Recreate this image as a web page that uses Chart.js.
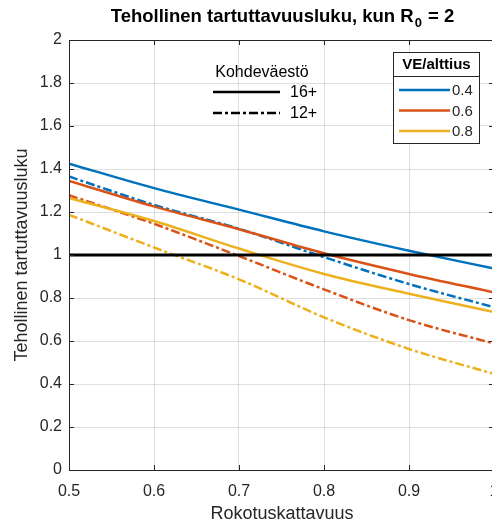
<!DOCTYPE html>
<html>
<head>
<meta charset="utf-8">
<script src="https://cdn.jsdelivr.net/npm/chart.js@4/dist/chart.umd.min.js"></script>
<style>
  html, body { margin: 0; padding: 0; background: #fff; overflow: hidden; }
  #wrap { width: 500px; height: 525px; }
</style>
</head>
<body>
<div id="wrap"><canvas id="rtChart" width="500" height="525"></canvas></div>
<script>
// ========== DATA ==========
const coverage = [0.5, 0.6, 0.7, 0.8, 0.9, 1.0];

// VE/alttius 0.4 / 0.6 / 0.8, target group 16+ (solid) and 12+ (dash-dot)
const ve04Age16 = [1.425, 1.311, 1.211, 1.110, 1.020, 0.937];
const ve04Age12 = [1.365, 1.233, 1.122, 0.990, 0.865, 0.757];
const ve06Age16 = [1.345, 1.226, 1.120, 1.008, 0.912, 0.826];
const ve06Age12 = [1.278, 1.145, 0.995, 0.840, 0.697, 0.588];
const ve08Age16 = [1.265, 1.158, 1.030, 0.912, 0.820, 0.735];
const ve08Age12 = [1.187, 1.035, 0.887, 0.710, 0.563, 0.447];

// epidemic threshold R = 1
const thresholdX = [0.5, 1.0];
const thresholdY = [1, 1];

const xTickValues = [0.5, 0.6, 0.7, 0.8, 0.9, 1];
const yTickValues = [0, 0.2, 0.4, 0.6, 0.8, 1, 1.2, 1.4, 1.6, 1.8, 2];

const veLevels = ['0.4', '0.6', '0.8'];
const groupLabels = ['16+', '12+'];

// ========== STYLE ==========
const FONT = "'Liberation Sans', Arial, Helvetica, sans-serif";
const AXIS_COLOR = '#262626';
const BLUE = '#0072BD';
const ORANGE = '#D95319';
const YELLOW = '#EDB120';
const DASH_DOT = [9, 3, 3, 3];

function toPoints(xs, ys) {
    return xs.map((x, i) => ({ x: x, y: ys[i] }));
}

function curve(values, color, dashed) {
    return {
        data: toPoints(coverage, values),
        borderColor: color,
        borderWidth: 2.5,
        borderDash: dashed ? DASH_DOT : [],
        borderCapStyle: 'butt',
        cubicInterpolationMode: 'monotone',
        pointRadius: 0,
        fill: false
    };
}

// ========== DECORATIONS (box, ticks, titles, legends) ==========
const decorations = {
    id: 'decorations',
    afterDraw(chart) {
        const ctx = chart.ctx;
        const area = chart.chartArea;
        const xs = chart.scales.x;
        const ys = chart.scales.y;
        ctx.save();

        // axes box
        ctx.strokeStyle = AXIS_COLOR;
        ctx.lineWidth = 1;
        ctx.strokeRect(area.left + 0.5, area.top + 0.5, area.right - area.left, area.bottom - area.top);

        // inward tick marks on all four sides
        ctx.beginPath();
        xTickValues.forEach(v => {
            const px = Math.round(xs.getPixelForValue(v)) + 0.5;
            ctx.moveTo(px, area.bottom); ctx.lineTo(px, area.bottom - 5);
            ctx.moveTo(px, area.top); ctx.lineTo(px, area.top + 5);
        });
        yTickValues.forEach(v => {
            const py = Math.round(ys.getPixelForValue(v)) + 0.5;
            ctx.moveTo(area.left, py); ctx.lineTo(area.left + 5, py);
            ctx.moveTo(area.right, py); ctx.lineTo(area.right - 5, py);
        });
        ctx.stroke();

        // title with subscript
        ctx.fillStyle = '#000';
        ctx.textBaseline = 'alphabetic';
        ctx.textAlign = 'left';
        const mainFont = 'bold 18.5px ' + FONT;
        const subFont = 'bold 13px ' + FONT;
        const partA = 'Tehollinen tartuttavuusluku, kun R';
        const partSub = '0';
        const partB = ' = 2';
        ctx.font = mainFont;
        const wA = ctx.measureText(partA).width;
        const wB = ctx.measureText(partB).width;
        ctx.font = subFont;
        const wS = ctx.measureText(partSub).width + 1;
        let tx = 282 - (wA + wS + wB) / 2;
        const ty = 22;
        ctx.font = mainFont;
        ctx.fillText(partA, tx, ty);
        tx += wA + 1;
        ctx.font = subFont;
        ctx.fillText(partSub, tx, ty + 5);
        tx += wS;
        ctx.font = mainFont;
        ctx.fillText(partB, tx, ty);

        // axis titles
        ctx.fillStyle = AXIS_COLOR;
        ctx.font = '18px ' + FONT;
        ctx.textAlign = 'center';
        ctx.textBaseline = 'middle';
        ctx.fillText('Rokotuskattavuus', 282, 514);
        ctx.save();
        ctx.translate(22, 255);
        ctx.rotate(-Math.PI / 2);
        ctx.fillText('Tehollinen tartuttavuusluku', 0, 0);
        ctx.restore();

        // legend: target group (no box)
        ctx.fillStyle = '#000';
        ctx.font = '16px ' + FONT;
        ctx.textAlign = 'center';
        ctx.fillText('Kohdeväestö', 262, 73);
        ctx.textAlign = 'left';
        ctx.strokeStyle = '#000';
        ctx.lineWidth = 2.5;
        ctx.lineCap = 'butt';
        [92, 113].forEach((ly, i) => {
            ctx.setLineDash(i === 0 ? [] : DASH_DOT);
            ctx.beginPath();
            ctx.moveTo(213, ly);
            ctx.lineTo(280, ly);
            ctx.stroke();
            ctx.fillText(groupLabels[i], 290, ly + 1);
        });
        ctx.setLineDash([]);

        // legend: VE/alttius (boxed)
        ctx.fillStyle = '#fff';
        ctx.fillRect(393, 52, 86, 91);
        ctx.strokeStyle = AXIS_COLOR;
        ctx.lineWidth = 1;
        ctx.strokeRect(393.5, 52.5, 86, 91);
        ctx.beginPath();
        ctx.moveTo(393.5, 76.5);
        ctx.lineTo(479.5, 76.5);
        ctx.stroke();
        ctx.fillStyle = '#000';
        ctx.font = 'bold 15px ' + FONT;
        ctx.textAlign = 'center';
        ctx.fillText('VE/alttius', 436.5, 65);
        ctx.font = '15px ' + FONT;
        ctx.textAlign = 'left';
        [BLUE, ORANGE, YELLOW].forEach((c, i) => {
            const ly = 90 + i * 20.5;
            ctx.strokeStyle = c;
            ctx.lineWidth = 2.5;
            ctx.beginPath();
            ctx.moveTo(399, ly);
            ctx.lineTo(450, ly);
            ctx.stroke();
            ctx.fillStyle = AXIS_COLOR;
            ctx.fillText(veLevels[i], 452, ly + 1);
        });

        ctx.restore();
    }
};

// ========== CHART ==========
Chart.defaults.font.family = FONT;

new Chart(document.getElementById('rtChart').getContext('2d'), {
    type: 'line',
    data: {
        datasets: [
            {
                data: toPoints(thresholdX, thresholdY),
                borderColor: '#000',
                borderWidth: 3,
                pointRadius: 0,
                fill: false
            },
            curve(ve04Age16, BLUE, false),
            curve(ve06Age16, ORANGE, false),
            curve(ve08Age16, YELLOW, false),
            curve(ve04Age12, BLUE, true),
            curve(ve06Age12, ORANGE, true),
            curve(ve08Age12, YELLOW, true)
        ]
    },
    options: {
        responsive: false,
        animation: false,
        events: [],
        layout: { padding: { top: 40, right: 6, left: 0, bottom: 0 } },
        plugins: {
            legend: { display: false },
            title: { display: false },
            tooltip: { enabled: false }
        },
        scales: {
            x: {
                type: 'linear',
                min: 0.5,
                max: 1,
                afterBuildTicks: s => { s.ticks = xTickValues.map(v => ({ value: v })); },
                afterFit: s => { s.height = 55; s.paddingLeft = 0; s.paddingRight = 0; },
                ticks: {
                    color: AXIS_COLOR,
                    font: { size: 16 },
                    padding: 12,
                    maxRotation: 0,
                    callback: v => String(v)
                },
                grid: { color: 'rgba(38,38,38,0.15)', lineWidth: 1, drawTicks: false },
                border: { display: false }
            },
            y: {
                min: 0,
                max: 2,
                afterBuildTicks: s => { s.ticks = yTickValues.map(v => ({ value: v })); },
                afterFit: s => { s.width = 69; s.paddingTop = 0; s.paddingBottom = 0; },
                ticks: {
                    color: AXIS_COLOR,
                    font: { size: 16 },
                    padding: 7,
                    callback: v => String(v)
                },
                grid: { color: 'rgba(38,38,38,0.15)', lineWidth: 1, drawTicks: false },
                border: { display: false }
            }
        }
    },
    plugins: [decorations]
});
</script>
</body>
</html>
